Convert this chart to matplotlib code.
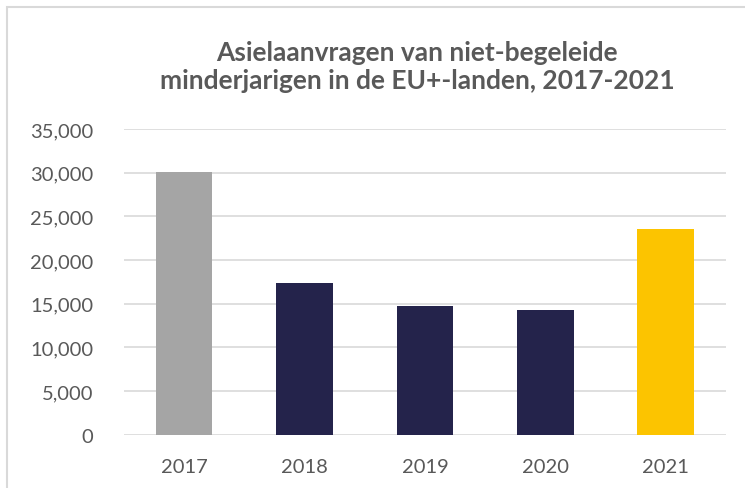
import matplotlib
matplotlib.use('Agg')
import matplotlib.pyplot as plt
from matplotlib.patches import Rectangle
from matplotlib.ticker import FuncFormatter

years = ['2017', '2018', '2019', '2020', '2021']
requests = [30040, 17370, 14730, 14280, 23550]
bar_colors = ['#a5a5a5', '#24234b', '#24234b', '#24234b', '#fcc400']

plt.rcParams['font.family'] = ['Lato', 'DejaVu Sans']

fig = plt.figure(figsize=(7.45, 4.89), dpi=100)
ax = fig.add_axes([0.1664, 0.109, 0.808, 0.625])

# light border round the chart area
fig.patches.append(Rectangle((7/745, -0.05), 1.0, 1 - 8/489 + 0.05, transform=fig.transFigure,
                             fill=False, edgecolor='#d9d9d9', linewidth=1.5))

ax.bar(years, requests, width=0.47, color=bar_colors, zorder=3)
ax.set_ylim(0, 35000)
ax.set_xlim(-0.5, 4.5)
ax.set_yticks(range(0, 35001, 5000))
ax.yaxis.set_major_formatter(FuncFormatter(lambda v, p: f'{int(v):,}'))
ax.grid(axis='y', color='#d9d9d9', linewidth=1.2, zorder=0)
for s in ax.spines.values():
    s.set_visible(False)
ax.tick_params(axis='both', length=0, labelsize=14.5, labelcolor='#595959')
ax.tick_params(axis='y', pad=22)
ax.tick_params(axis='x', pad=17)

fig.text(0.56, 0.862, 'Asielaanvragen van niet-begeleide\nminderjarigen in de EU+-landen, 2017-2021',
         ha='center', va='center', fontsize=19, fontweight='bold', color='#595959', linespacing=1.2)

fig.savefig('out.png', dpi=100)
